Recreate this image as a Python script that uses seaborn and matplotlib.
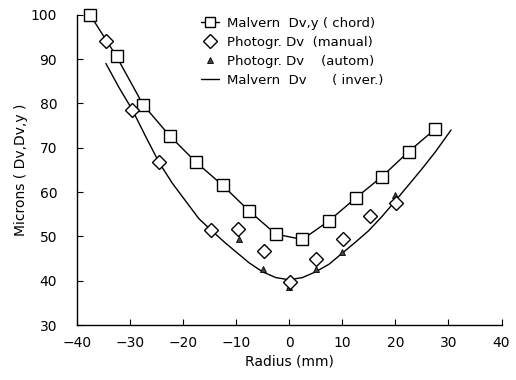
import matplotlib
matplotlib.use("Agg")
import matplotlib.pyplot as plt
import seaborn as sns
import pandas as pd
from matplotlib.lines import Line2D

# Malvern Dv,y (chord) - squares joined by a line
radio_chord = [-37.5, -32.5, -27.5, -22.5, -17.5, -12.5, -7.5, -2.5, 2.5, 7.5, 12.5, 17.5, 22.5, 27.5]
dv_chord = [100.0, 90.6, 79.7, 72.7, 66.7, 61.5, 55.7, 50.5, 49.3, 53.5, 58.6, 63.5, 69.1, 74.2]

# Photogr. Dv (manual) - diamonds
radio_manual = [-34.5, -29.5, -24.5, -14.8, -9.7, -4.7, 0.1, 5.0, 10.2, 15.3, 20.2]
dv_manual = [94.0, 78.5, 66.7, 51.5, 51.7, 46.7, 39.8, 44.8, 49.4, 54.5, 57.5]

# Photogr. Dv (autom) - small triangles
radio_autom = [-9.5, -4.9, 0.0, 5.0, 10.0, 20.0]
dv_autom = [49.3, 42.6, 38.5, 42.6, 46.5, 59.3]

# Malvern Dv (inver.) - plain curve
radio_inver = [-34.5, -32.0, -29.5, -27.0, -24.5, -22.0, -19.5, -17.0, -14.6, -12.0, -10.0, -7.5,
               -5.0, -2.5, 0.0, 2.5, 5.0, 7.5, 10.0, 12.5, 15.0, 17.5, 20.0, 22.5, 25.0, 27.5, 30.5]
dv_inver = [89.0, 83.5, 78.5, 72.5, 66.7, 62.0, 58.0, 54.0, 51.3, 48.5, 46.5, 44.0,
            42.0, 40.7, 40.2, 40.7, 42.0, 43.7, 46.2, 48.7, 51.3, 54.5, 58.0, 61.6, 65.2, 69.0, 74.0]

etiquetas = ["Malvern  Dv,y ( chord)", "Photogr. Dv  (manual)",
             "Photogr. Dv    (autom)", "Malvern  Dv      ( inver.)"]

sns.set_style("ticks")
plt.rcParams['font.family'] = ['DejaVu Sans']
plt.rcParams['text.color'] = 'black'
plt.rcParams['axes.labelcolor'] = 'black'
plt.rcParams['xtick.color'] = 'black'
plt.rcParams['ytick.color'] = 'black'

fig = plt.figure(figsize=(5.16, 3.80), dpi=100)
ax = fig.add_axes([0.1486, 0.1447, 0.8234, 0.8166])

df_chord = pd.DataFrame({'r': radio_chord, 'd': dv_chord})
df_manual = pd.DataFrame({'r': radio_manual, 'd': dv_manual})
df_autom = pd.DataFrame({'r': radio_autom, 'd': dv_autom})
df_inver = pd.DataFrame({'r': radio_inver, 'd': dv_inver})

sns.lineplot(data=df_inver, x='r', y='d', ax=ax, color='black', linewidth=1.0, estimator=None, sort=True)
sns.lineplot(data=df_chord, x='r', y='d', ax=ax, color='black', linewidth=1.0, estimator=None, sort=True)
ax.plot(df_chord['r'], df_chord['d'], linestyle='none', marker='s', markersize=8,
        markerfacecolor='white', markeredgecolor='black', markeredgewidth=1.0, clip_on=False, zorder=4)
ax.plot(df_autom['r'], df_autom['d'], linestyle='none', marker='^', markersize=4.5,
        markerfacecolor='#444444', markeredgecolor='black', markeredgewidth=0.6, zorder=4)
ax.plot(df_manual['r'], df_manual['d'], linestyle='none', marker='D', markersize=7,
        markerfacecolor='white', markeredgecolor='black', markeredgewidth=1.0, zorder=5)

ax.set_xlim(-40, 40)
ax.set_ylim(30, 100)
ax.set_xticks(range(-40, 41, 10))
ax.set_yticks(range(30, 101, 10))
sns.despine(ax=ax)
ax.spines['left'].set_linewidth(1.0)
ax.spines['bottom'].set_linewidth(1.0)
ax.spines['left'].set_color('black')
ax.spines['bottom'].set_color('black')
ax.tick_params(axis='both', direction='in', length=4, width=0.8, labelsize=10, colors='black')
ax.tick_params(axis='y', pad=14)
ax.tick_params(axis='x', pad=8)
ax.set_xlabel('Radius (mm)', fontsize=10, labelpad=3)
ax.set_ylabel('Microns ( Dv,Dv,y )', fontsize=10, labelpad=2)

handles = [
    Line2D([0], [0], color='black', linewidth=1.0, marker='s', markersize=7.5,
           markerfacecolor='white', markeredgecolor='black'),
    Line2D([0], [0], linestyle='none', marker='D', markersize=7,
           markerfacecolor='white', markeredgecolor='black'),
    Line2D([0], [0], linestyle='none', marker='^', markersize=4.5,
           markerfacecolor='#444444', markeredgecolor='black', markeredgewidth=0.6),
    Line2D([0], [0], color='black', linewidth=1.0),
]
ax.legend(handles, etiquetas, loc='upper left', bbox_to_anchor=(0.28, 1.01), frameon=False,
          fontsize=9.5, handlelength=1.4, handletextpad=0.6, labelspacing=0.45, borderaxespad=0)

fig.savefig('out.png', dpi=100)
plt.close(fig)
